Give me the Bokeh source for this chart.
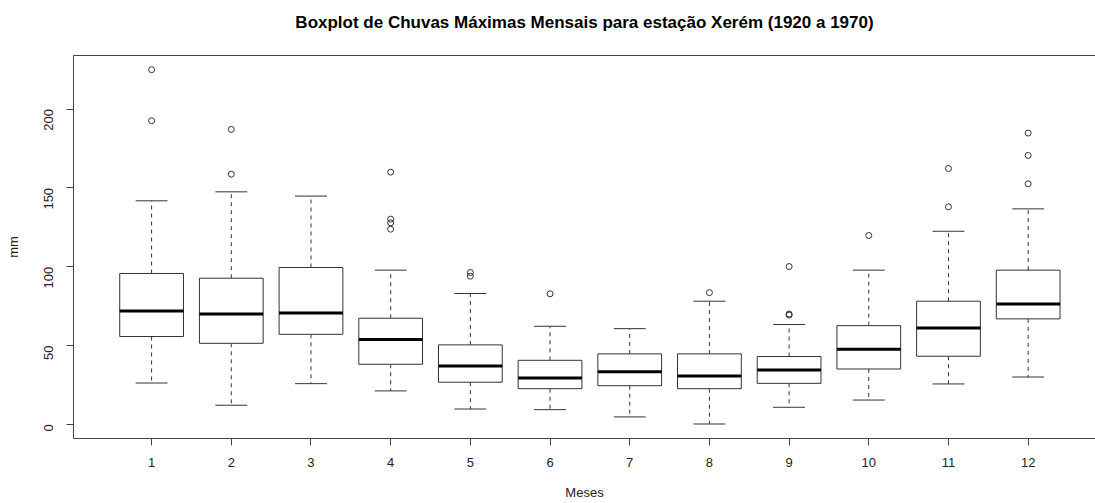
import numpy as np
from bokeh.plotting import figure
from bokeh.models import FixedTicker, LinearAxis, Range1d, ColumnDataSource
from bokeh.embed import file_html
from bokeh.resources import INLINE

months = [1, 2, 3, 4, 5, 6, 7, 8, 9, 10, 11, 12]
tick_labels = [str(m) for m in months]
q1 = [55.7, 51.4, 57.1, 38.1, 26.7, 22.6, 24.5, 22.6, 26.0, 35.1, 43.2, 66.9]
median = [71.9, 70.0, 70.7, 53.8, 37.0, 29.4, 33.4, 30.7, 34.5, 47.6, 61.1, 76.4]
q3 = [95.7, 92.7, 99.5, 67.3, 50.4, 40.6, 44.7, 44.7, 43.0, 62.6, 78.1, 97.8]
lower_whisker = [26.2, 12.1, 25.8, 21.2, 9.7, 9.3, 4.7, 0.2, 10.8, 15.4, 25.6, 30.0]
upper_whisker = [141.8, 147.5, 144.8, 97.8, 83.0, 62.2, 60.7, 78.1, 63.3, 97.8, 122.5, 136.7]
outlier_month = [1, 1, 2, 2, 4, 4, 4, 4, 5, 5, 6, 8, 9, 9, 9, 10, 11, 11, 12, 12, 12]
outlier_value = [225.0, 192.6, 187.1, 158.7, 160.0, 130.2, 127.8, 123.8, 96.3, 94.0,
                 82.8, 83.6, 100.1, 70.0, 69.3, 119.8, 162.3, 138.0, 184.8, 170.6, 152.6]
title_text = "Boxplot de Chuvas Máximas Mensais para estação Xerém (1920 a 1970)"

BOX_W = 0.8
CAP_W = 0.4
LINE = "#333333"
FONT = "Liberation Sans"

x = np.array(months, dtype=float)
src = ColumnDataSource(dict(
    x=x, q1=q1, med=median, q3=q3, lo=lower_whisker, hi=upper_whisker,
    bl=x - BOX_W / 2, br=x + BOX_W / 2, cl=x - CAP_W / 2, cr=x + CAP_W / 2,
))

p = figure(width=1095, height=503, output_backend="svg", toolbar_location=None,
           x_range=Range1d(0.02, 12.845), y_range=Range1d(-9, 234),
           min_border_left=73, min_border_right=0, min_border_top=55,
           min_border_bottom=65, background_fill_color="white",
           border_fill_color="white")
p.outline_line_color = None
p.grid.visible = False
p.title.text = ""
p.title.visible = False

# whiskers
p.segment(x0="x", y0="q3", x1="x", y1="hi", source=src, line_color=LINE,
          line_width=1, line_dash="4 4")
p.segment(x0="x", y0="q1", x1="x", y1="lo", source=src, line_color=LINE,
          line_width=1, line_dash="4 4")
# caps
p.segment(x0="cl", y0="hi", x1="cr", y1="hi", source=src, line_color=LINE, line_width=1)
p.segment(x0="cl", y0="lo", x1="cr", y1="lo", source=src, line_color=LINE, line_width=1)
# boxes
p.quad(left="bl", right="br", bottom="q1", top="q3", source=src,
       fill_color="white", line_color=LINE, line_width=1)
# medians
p.segment(x0="bl", y0="med", x1="br", y1="med", source=src, line_color="black", line_width=3)
# outliers
p.scatter(x=outlier_month, y=outlier_value, marker="circle", size=6,
          fill_color=None, line_color=LINE, line_width=1)

# axes styling
xa = p.xaxis[0]
xa.ticker = FixedTicker(ticks=months)
xa.major_label_overrides = {m: lab for m, lab in zip(months, tick_labels)}
ya = p.yaxis[0]
ya.ticker = FixedTicker(ticks=[0, 50, 100, 150, 200])
ya.major_label_orientation = np.pi / 2

for ax in (xa, ya):
    ax.axis_line_color = "#444444"
    ax.major_tick_line_color = "#444444"
    ax.major_tick_out = 7
    ax.major_tick_in = 0
    ax.minor_tick_line_color = None
    ax.major_label_text_font = FONT
    ax.major_label_text_font_size = "13px"
    ax.major_label_text_color = "#222222"
    ax.axis_label_text_font = FONT
    ax.axis_label_text_font_size = "13px"
    ax.axis_label_text_font_style = "normal"
    ax.axis_label_text_color = "#222222"

xa.major_label_standoff = 12
xa.axis_label = "Meses"
xa.axis_label_standoff = 15
ya.major_label_standoff = 18
ya.axis_label = "mm"
ya.axis_label_standoff = 16

# top frame line carrying the chart title as its label
top_axis = LinearAxis(ticker=FixedTicker(ticks=[]), axis_line_color="#444444",
                      major_tick_line_color=None, minor_tick_line_color=None,
                      major_tick_out=0, major_label_standoff=0,
                      major_label_text_color=None,
                      axis_label=title_text, axis_label_standoff=24,
                      axis_label_text_font=FONT, axis_label_text_font_size="17px",
                      axis_label_text_font_style="bold", axis_label_text_color="black")
p.add_layout(top_axis, "above")

open("out.html", "w").write(file_html(p, INLINE))
